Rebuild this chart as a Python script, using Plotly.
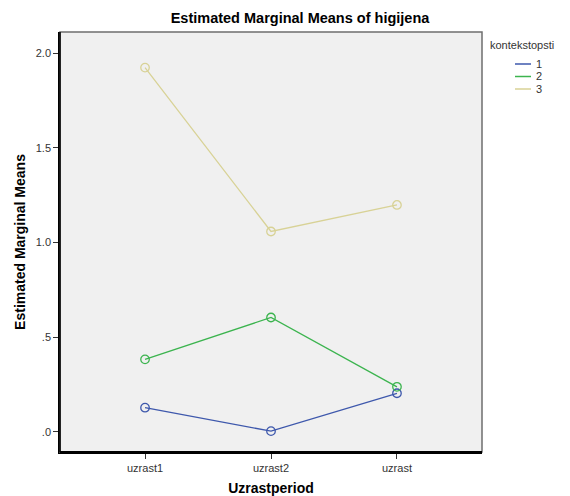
import plotly.graph_objects as go

categories = ["uzrast1", "uzrast2", "uzrast"]
series_names = ["1", "2", "3"]
values_1 = [0.128, 0.004, 0.204]
values_2 = [0.383, 0.604, 0.238]
values_3 = [1.923, 1.058, 1.198]
y_tick_vals = [0.0, 0.5, 1.0, 1.5, 2.0]
y_tick_text = [".0", ".5", "1.0", "1.5", "2.0"]
colors = ["#3E58AC", "#3CB44F", "#D8D296"]

OFF = 8  # page body margin
W, H = 570 - OFF, 496 - OFF
L, R, T, B = 60 - OFF, 88, 32 - OFF, 44

fig = go.Figure()
for name, vals, col in zip(series_names, [values_1, values_2, values_3], colors):
    fig.add_trace(go.Scatter(
        x=[0, 1, 2], y=vals, mode="lines+markers", name=name,
        line=dict(color=col, width=1.3),
        marker=dict(symbol="circle-open", size=8.5, color=col, line=dict(width=1.3)),
        showlegend=False,
    ))

font = "Arial, Liberation Sans, sans-serif"
fig.update_layout(
    width=W, height=H,
    margin=dict(l=L, r=R, t=T, b=B, pad=0, autoexpand=False),
    paper_bgcolor="white", plot_bgcolor="#F0F0F0",
    font=dict(family=font, size=11, color="#333333"),
    xaxis=dict(range=[-0.675, 2.675], tickvals=[0, 1, 2], ticktext=categories, automargin=False,
               showgrid=False, zeroline=False, showline=True, linecolor="black", linewidth=1.5,
               ticks="outside", ticklen=5, tickcolor="#333333", tickfont=dict(size=11, color="#333333"),
               title=dict(text="<b>Uzrastperiod</b>", font=dict(size=14, color="black"), standoff=12)),
    yaxis=dict(range=[-0.106, 2.111], tickvals=y_tick_vals, ticktext=y_tick_text, automargin=False,
               showgrid=False, zeroline=False, showline=True, linecolor="black", linewidth=1.5,
               ticks="outside", ticklen=5, tickcolor="#333333", tickfont=dict(size=11, color="#333333"),
               title=dict(text="<b>Estimated Marginal Means</b>", font=dict(size=14, color="black"), standoff=7)),
    title=dict(text="<b>Estimated Marginal Means of higijena</b>", x=(300 - OFF) / W, xanchor="center",
               y=1 - (18 - OFF) / H, yanchor="middle", font=dict(size=14.5, color="black")),
)

# frame
fig.add_shape(type="rect", xref="paper", yref="paper", x0=0, x1=1, y0=0, y1=1,
              line=dict(color="#6E6E6E", width=1.5), fillcolor="rgba(0,0,0,0)", layer="above")
fig.add_shape(type="line", xref="paper", yref="paper", x0=0, x1=1, y0=0, y1=0,
              line=dict(color="black", width=2), layer="above")
fig.add_shape(type="line", xref="paper", yref="paper", x0=0, x1=0, y0=0, y1=1,
              line=dict(color="black", width=1.5), layer="above")

# manual legend (screen pixel coords)
pw = W - L - R
ph = H - T - B
def px(x):
    return (x - OFF - L) / pw
def py(y):
    return 1 - (y - OFF - T) / ph

fig.add_annotation(text="kontekstopsti", xref="paper", yref="paper", x=px(488), y=py(45),
                   xanchor="left", yanchor="middle", showarrow=False,
                   font=dict(size=11, color="#333333"))
for i, (name, col) in enumerate(zip(series_names, colors)):
    yy = 64 + i * 12.5
    fig.add_shape(type="line", xref="paper", yref="paper", x0=px(515), x1=px(531),
                  y0=py(yy), y1=py(yy), line=dict(color=col, width=1.5))
    fig.add_annotation(text=name, xref="paper", yref="paper", x=px(534), y=py(yy),
                       xanchor="left", yanchor="middle", showarrow=False,
                       font=dict(size=11, color="#333333"))

fig.write_html("out.html")
